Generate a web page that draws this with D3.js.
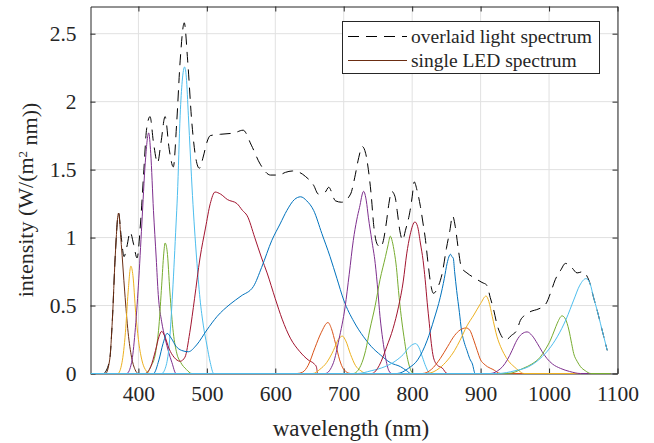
<!DOCTYPE html>
<html>
<head>
<meta charset="utf-8">
<script src="https://cdn.jsdelivr.net/npm/d3@7"></script>
<style>
  body { margin: 0; background: #fff; }
  svg { display: block; }
  svg text { font-family: "Times New Roman", "Liberation Serif", "DejaVu Serif", serif !important; fill: #262626; }
</style>
</head>
<body>
<svg id="chart" width="654" height="443"></svg>
<script>
// Axis ticks
const xTicks = [400, 500, 600, 700, 800, 900, 1000, 1100];
const yTicks = [0, 0.5, 1, 1.5, 2, 2.5];

// Summed spectrum of all LEDs switched on together: [wavelength nm, W/(m^2 nm)]
const overlaid = [
  [350,0],[358,0.1],[362,0.4],[366,0.85],[371,1.18],[375,1.0],[379,0.86],[383,0.93],[388,1.04],
  [393,0.95],[398,0.85],[403,1.1],[408,1.5],[412,1.8],[417,1.89],[422,1.7],[428,1.55],[433,1.7],
  [439,1.89],[445,1.65],[451,1.52],[456,1.85],[461,2.3],[467,2.58],[472,2.3],[478,1.85],[484,1.58],
  [489,1.51],[495,1.6],[500,1.7],[505,1.75],[520,1.76],[540,1.77],[553,1.79],[565,1.68],[578,1.54],
  [593,1.46],[605,1.46],[615,1.48],[625,1.49],[635,1.48],[644,1.45],[656,1.385],[663,1.32],
  [673,1.335],[678,1.37],[688,1.27],[697,1.26],[710,1.32],[716,1.44],[722,1.59],[727,1.67],
  [732,1.62],[736,1.5],[740,1.32],[744,1.08],[749,0.95],[754,0.93],[758,0.98],[762,1.1],[766,1.25],
  [770,1.34],[775,1.3],[778,1.2],[782,1.05],[786,0.98],[790,1.05],[797,1.2],[800,1.3],[803,1.41],
  [807,1.35],[812,1.23],[816,1.1],[819,1.0],[823,0.82],[827,0.66],[831,0.59],[838,0.64],[844,0.74],
  [850,0.92],[855,1.05],[859,1.16],[863,1.08],[867,0.93],[872,0.78],[880,0.74],[892,0.7],[902,0.67],
  [909,0.65],[914,0.56],[919,0.47],[924,0.36],[930,0.28],[936,0.245],[945,0.28],[953,0.32],
  [958,0.39],[965,0.43],[975,0.46],[982,0.47],[995,0.51],[1002,0.59],[1009,0.69],[1017,0.76],
  [1024,0.81],[1033,0.78],[1041,0.74],[1050,0.75],[1055,0.72],[1060,0.66],[1065,0.56],[1070,0.47],
  [1075,0.37],[1080,0.27],[1085,0.17]
];

// Individual LED spectra, each sampled over the whole measured band
const led370 = [[330,0],[352,0],[358,0.1],[362,0.4],[366,0.85],[371,1.18],[375,0.95],[380,0.6],[385,0.3],[390,0.12],[395,0.03],[400,0],[1090,0]];
const led390 = [[330,0],[370,0],[376,0.08],[381,0.3],[385,0.6],[389,0.79],[392,0.72],[396,0.45],[400,0.25],[405,0.1],[410,0.03],[417,0],[1090,0]];
const led415 = [[330,0],[383,0],[390,0.08],[395,0.3],[400,0.65],[405,1.1],[410,1.55],[415,1.77],[418,1.62],[422,1.2],[426,0.85],[429,0.58],[434,0.38],[439,0.26],[444,0.16],[449,0.08],[455,0],[1090,0]];
const led440 = [[330,0],[410,0],[418,0.05],[425,0.15],[430,0.35],[434,0.65],[437,0.88],[439,0.96],[442,0.9],[446,0.6],[451,0.3],[456,0.15],[462,0.08],[470,0.03],[478,0],[1090,0]];
const led468 = [[330,0],[434,0],[440,0.05],[445,0.21],[450,0.6],[455,1.1],[457,1.31],[461,1.9],[464,2.15],[467.5,2.255],[470,2.18],[473,1.9],[476,1.6],[479,1.31],[485,0.85],[490,0.55],[495,0.35],[500,0.21],[505,0.08],[510,0],[1090,0]];
const led512 = [[330,0],[410,0],[418,0.05],[425,0.17],[430,0.27],[434,0.31],[438,0.28],[445,0.18],[452,0.12],[461,0.09],[468,0.12],[475,0.3],[482,0.55],[490,0.85],[498,1.07],[505,1.25],[512,1.335],[520,1.32],[530,1.28],[544,1.25],[552,1.2],[559,1.16],[570,1.0],[580,0.85],[588,0.74],[600,0.55],[610,0.4],[622,0.26],[636,0.16],[648,0.1],[657,0.07],[660,0.05],[662,0],[1090,0]];
const led636 = [[330,0],[422,0],[430,0.1],[436,0.22],[442,0.295],[448,0.26],[455,0.2],[463,0.17],[473,0.16],[485,0.21],[500,0.32],[515,0.42],[534,0.51],[550,0.57],[568,0.64],[580,0.78],[595,0.98],[607,1.1],[617,1.2],[628,1.28],[637,1.3],[646,1.27],[656,1.2],[668,1.03],[680,0.86],[690,0.7],[700,0.54],[715,0.38],[729,0.27],[740,0.2],[754,0.135],[768,0.08],[783,0.05],[792,0.02],[798,0],[1090,0]];
const led677 = [[330,0],[632,0],[640,0.01],[648,0.06],[658,0.19],[667,0.3],[677,0.375],[682,0.33],[688,0.22],[694,0.1],[700,0.03],[710,0],[1090,0]];
const led698 = [[330,0],[655,0],[665,0.03],[675,0.08],[685,0.17],[692,0.25],[698,0.275],[703,0.24],[710,0.14],[717,0.06],[725,0.02],[734,0],[1090,0]];
const led729 = [[330,0],[673,0],[685,0.08],[693,0.25],[702,0.49],[708,0.73],[714,0.98],[719,1.13],[723,1.22],[729,1.34],[733,1.27],[736,1.15],[741,0.98],[746,0.81],[750,0.6],[753,0.42],[757,0.25],[761,0.12],[766,0.02],[770,0],[1090,0]];
const led768 = [[330,0],[714,0],[725,0.06],[732,0.17],[738,0.32],[746,0.5],[753,0.69],[761,0.86],[765,0.95],[768,1.01],[771,0.97],[774,0.89],[777,0.78],[780,0.61],[784,0.42],[788,0.27],[792,0.14],[795,0.07],[802,0],[1090,0]];
const led805 = [[330,0],[720,0],[740,0.02],[760,0.05],[775,0.09],[787,0.14],[797,0.2],[805,0.22],[810,0.19],[815,0.12],[820,0.05],[826,0],[1090,0]];
const led804 = [[330,0],[741,0],[752,0.06],[763,0.2],[772,0.33],[780,0.49],[787,0.68],[792,0.88],[797,1.02],[804,1.115],[808,1.08],[812,0.96],[816,0.83],[819,0.69],[822,0.52],[825,0.37],[828,0.22],[831,0.12],[837,0.06],[844,0.04],[851,0],[1090,0]];
const led856 = [[330,0],[778,0],[795,0.04],[808,0.1],[822,0.245],[832,0.4],[841,0.56],[847,0.7],[851,0.81],[856,0.877],[858,0.86],[860,0.85],[862,0.75],[865,0.61],[869,0.45],[872,0.32],[876,0.23],[880,0.17],[884,0.11],[888,0.07],[892,0],[1090,0]];
const led879 = [[330,0],[815,0],[828,0.03],[841,0.11],[852,0.2],[862,0.28],[870,0.32],[879,0.335],[884,0.32],[890,0.245],[895,0.17],[900,0.1],[905,0.07],[910,0.05],[918,0.03],[929,0],[1090,0]];
const led908 = [[330,0],[821,0],[840,0.04],[852,0.1],[862,0.17],[870,0.245],[880,0.35],[890,0.43],[900,0.515],[908,0.57],[912,0.53],[917,0.42],[924,0.27],[929,0.2],[934,0.147],[941,0.09],[949,0.05],[956,0.02],[963,0],[1090,0]];
const led968 = [[330,0],[914,0],[925,0.02],[932,0.05],[939,0.1],[946,0.17],[953,0.245],[960,0.29],[968,0.306],[975,0.28],[983,0.22],[990,0.16],[997,0.11],[1005,0.07],[1017,0.037],[1030,0.015],[1046,0],[1090,0]];
const led1019 = [[330,0],[940,0],[963,0.04],[975,0.07],[987,0.12],[995,0.18],[1002,0.245],[1008,0.32],[1012,0.37],[1019,0.424],[1024,0.4],[1029,0.32],[1033,0.22],[1036,0.147],[1041,0.09],[1046,0.05],[1053,0.02],[1061,0],[1090,0]];
const led1054 = [[330,0],[925,0],[950,0.02],[970,0.05],[987,0.11],[1000,0.18],[1012,0.27],[1025,0.4],[1036,0.54],[1045,0.65],[1054,0.698],[1060,0.66],[1065,0.56],[1070,0.47],[1075,0.37],[1080,0.27],[1085,0.17]];

const ledSpectra = [led370, led390, led415, led440, led468, led512, led636, led677, led698, led729,
                    led768, led805, led804, led856, led879, led908, led968, led1019, led1054];
const ledColors = ["#6b2d12", "#EDB120", "#7E2F8E", "#77AC30", "#4DBEEE", "#A2142F", "#0072BD",
                   "#D95319", "#EDB120", "#7E2F8E", "#77AC30", "#4DBEEE", "#A2142F", "#0072BD",
                   "#D95319", "#EDB120", "#7E2F8E", "#77AC30", "#4DBEEE"];
const legendLabels = ["overlaid light spectrum", "single LED spectrum"];

const serif = '"Times New Roman", "Liberation Serif", "DejaVu Serif", serif';
const svg = d3.select("#chart");
const plot = { left: 90.5, right: 617.5, top: 6.5, bottom: 373.5 };

const x = d3.scaleLinear().domain([330, 1100]).range([plot.left, plot.right]);
const y = d3.scaleLinear().domain([0, 2.7]).range([plot.bottom, plot.top]);

const axisColor = "#262626";

// Grid
const grid = svg.append("g");
grid.selectAll("line.gx").data(xTicks).join("line")
  .attr("x1", d => x(d)).attr("x2", d => x(d))
  .attr("y1", plot.top).attr("y2", plot.bottom)
  .attr("stroke", "#e1e1e1").attr("stroke-width", 1);
grid.selectAll("line.gy").data(yTicks).join("line")
  .attr("x1", plot.left).attr("x2", plot.right)
  .attr("y1", d => y(d)).attr("y2", d => y(d))
  .attr("stroke", "#e1e1e1").attr("stroke-width", 1);

// Axes (inward ticks on all four sides, box outline)
const fmt = d => String(d);
const tickLen = 5;
const gBottom = svg.append("g").attr("transform", `translate(0,${plot.bottom})`)
  .call(d3.axisBottom(x).tickValues(xTicks).tickSizeInner(-tickLen).tickSizeOuter(0).tickPadding(12).tickFormat(fmt));
const gTop = svg.append("g").attr("transform", `translate(0,${plot.top})`)
  .call(d3.axisTop(x).tickValues(xTicks).tickSizeInner(-tickLen).tickSizeOuter(0).tickFormat(""));
const gLeft = svg.append("g").attr("transform", `translate(${plot.left},0)`)
  .call(d3.axisLeft(y).tickValues(yTicks).tickSizeInner(-tickLen).tickSizeOuter(0).tickPadding(14).tickFormat(fmt));
const gRight = svg.append("g").attr("transform", `translate(${plot.right},0)`)
  .call(d3.axisRight(y).tickValues(yTicks).tickSizeInner(-tickLen).tickSizeOuter(0).tickFormat(""));

[gBottom, gTop, gLeft, gRight].forEach(g => {
  g.attr("font-family", serif).attr("font-size", 21.5);
  g.select(".domain").attr("stroke", axisColor).attr("stroke-width", 1);
  g.selectAll(".tick line").attr("stroke", axisColor).attr("stroke-width", 1);
  g.selectAll(".tick text").attr("fill", axisColor);
});
gBottom.selectAll(".tick text").attr("dy", "0.71em");
gLeft.selectAll(".tick text").attr("dy", "0.34em");

// Curves
const line = d3.line().x(d => x(d[0])).y(d => y(d[1])).curve(d3.curveMonotoneX);

const series = svg.append("g").attr("fill", "none");
series.append("path")
  .datum(overlaid)
  .attr("d", line)
  .attr("stroke", "#000")
  .attr("stroke-width", 1)
  .attr("stroke-dasharray", "11,7");

series.selectAll("path.led").data(ledSpectra).join("path")
  .attr("class", "led")
  .attr("d", line)
  .attr("stroke", (d, i) => ledColors[i])
  .attr("stroke-width", 1);

// Axis labels
svg.append("text")
  .attr("x", 351)
  .attr("y", 436)
  .attr("text-anchor", "middle")
  .attr("font-family", serif)
  .attr("font-size", 23)
  .text("wavelength (nm)");

const yl = svg.append("text")
  .attr("transform", "translate(33,200) rotate(-90)")
  .attr("text-anchor", "middle")
  .attr("font-family", serif)
  .attr("font-size", 22);
yl.append("tspan").text("intensity (W/(m");
yl.append("tspan").attr("dy", "-0.45em").attr("font-size", 13).text("2");
yl.append("tspan").attr("dy", "0.45em").text(" nm))");

// Legend
const lg = svg.append("g").attr("font-family", serif);
lg.append("rect")
  .attr("x", 342.5).attr("y", 21.5).attr("width", 257).attr("height", 52)
  .attr("fill", "#fff").attr("stroke", axisColor).attr("stroke-width", 1);
const legendStyles = [
  { color: "#000", dash: "11,7" },
  { color: ledColors[0], dash: null }
];
legendLabels.forEach((label, i) => {
  const cy = 36.5 + i * 24;
  lg.append("line")
    .attr("x1", 348).attr("x2", 407).attr("y1", cy).attr("y2", cy)
    .attr("stroke", legendStyles[i].color).attr("stroke-width", 1)
    .attr("stroke-dasharray", legendStyles[i].dash);
  lg.append("text")
    .attr("x", 411).attr("y", cy + 6.5)
    .attr("font-size", 19.5)
    .text(label);
});
</script>
</body>
</html>
